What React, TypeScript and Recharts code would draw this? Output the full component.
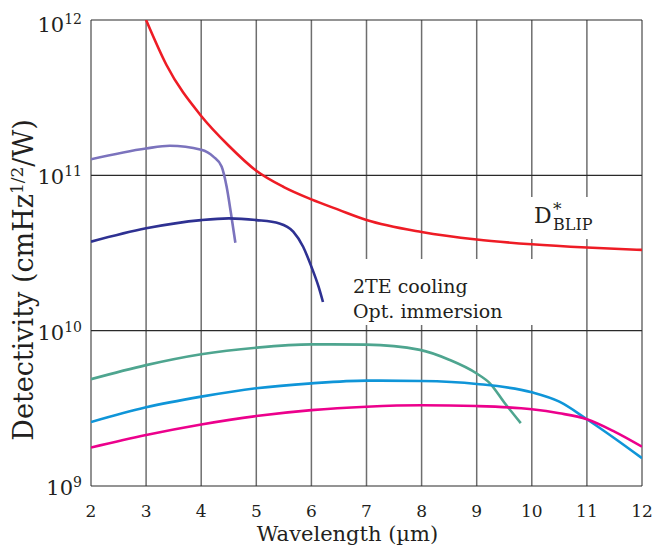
import React from 'react';
import { LineChart, Line, XAxis, YAxis, CartesianGrid } from 'recharts';

// wavelength ticks (µm) and detectivity decades
const xTicks = [2, 3, 4, 5, 6, 7, 8, 9, 10, 11, 12];
const yTicks = [1e9, 1e10, 1e11, 1e12];

// D*BLIP
const blipX = [3, 3.37, 4, 4.5, 5, 5.5, 6, 6.5, 7, 8, 9, 10, 11, 12];
const blipD = [1e12, 5.13e11, 2.41e11, 1.55e11, 1.07e11, 8.4e10, 7.0e10, 5.99e10, 5.16e10, 4.32e10, 3.86e10, 3.6e10, 3.43e10, 3.31e10];

// lavender detector (cut-off ~4.6 µm)
const lavX = [2, 3, 3.43, 4, 4.22, 4.37, 4.46, 4.54, 4.62];
const lavD = [1.27e11, 1.49e11, 1.55e11, 1.46e11, 1.32e11, 1.14e11, 8.5e10, 5.7e10, 3.68e10];

// navy detector (cut-off ~6.2 µm)
const navyX = [2, 3, 4, 4.5, 5, 5.42, 5.67, 5.85, 6, 6.13, 6.21];
const navyD = [3.74e10, 4.56e10, 5.15e10, 5.28e10, 5.15e10, 4.9e10, 4.34e10, 3.47e10, 2.58e10, 1.92e10, 1.53e10];

// teal detector (cut-off ~9.8 µm)
const tealX = [2, 3, 4, 5, 6, 7, 7.97, 8.5, 9, 9.24, 9.5, 9.8];
const tealD = [4.87e9, 6.0e9, 7.05e9, 7.77e9, 8.16e9, 8.13e9, 7.52e9, 6.5e9, 5.3e9, 4.58e9, 3.45e9, 2.54e9];

// blue detector
const blueX = [2, 3, 4, 5, 6, 7, 8, 9, 10, 10.5, 11, 11.5, 12];
const blueD = [2.58e9, 3.21e9, 3.76e9, 4.26e9, 4.58e9, 4.77e9, 4.74e9, 4.54e9, 4.01e9, 3.49e9, 2.69e9, 2.03e9, 1.51e9];

// magenta detector
const magX = [2, 3, 4, 5, 6, 7, 8, 9, 10, 10.5, 11, 11.5, 12];
const magD = [1.77e9, 2.13e9, 2.49e9, 2.82e9, 3.08e9, 3.24e9, 3.31e9, 3.27e9, 3.12e9, 2.94e9, 2.69e9, 2.24e9, 1.79e9];

const zip = (xs: number[], ys: number[]) => xs.map((x, i) => ({ x, y: ys[i] }));

const series = [
  { name: 'blip', data: zip(blipX, blipD), color: '#ee1c25' },
  { name: 'lav', data: zip(lavX, lavD), color: '#7b73bd' },
  { name: 'navy', data: zip(navyX, navyD), color: '#2e3192' },
  { name: 'teal', data: zip(tealX, tealD), color: '#4ea58f' },
  { name: 'blue', data: zip(blueX, blueD), color: '#0f95d8' },
  { name: 'mag', data: zip(magX, magD), color: '#ec008c' },
];

const FONT = '"DejaVu Serif", serif';
const INK = '#231f20';

const XTick = ({ x, y, payload }: any) => (
  <text x={x} y={y + 31} textAnchor="middle" fontSize={17} fontFamily={FONT} fill={INK}>
    {payload.value}
  </text>
);

const YTick = ({ x, y, payload }: any) => {
  const exp = Math.round(Math.log10(payload.value));
  return (
    <text x={x - 9} y={y + (exp === 12 ? 12 : 9)} textAnchor="end" fontSize={21} fontFamily={FONT} fill={INK}>
      10<tspan dy={-8} fontSize={14}>{exp}</tspan>
    </text>
  );
};

const YTitle = () => (
  <text x={33} y={280} transform="rotate(-90 33 280)" textAnchor="middle" fontSize={27} fontFamily={FONT} fill={INK}>
    Detectivity (cmHz<tspan dy={-10} fontSize={17}>1/2</tspan>
    <tspan dy={10}>/W)</tspan>
  </text>
);

const XTitle = ({ viewBox }: any) => (
  <text x={viewBox.x + viewBox.width / 2 - 19} y={541} textAnchor="middle" fontSize={21} fontFamily={FONT} fill={INK}>
    Wavelength (µm)
  </text>
);

export default function App() {
  return (
    <div style={{ position: 'absolute', left: 0, top: 0, width: 653, height: 546, background: '#fff' }}>
      <LineChart width={653} height={546} margin={{ top: 20, right: 11, left: 0, bottom: 0 }}>
        <CartesianGrid horizontal={false} stroke="#6e6e6e" strokeWidth={1.5} />
        <CartesianGrid vertical={false} stroke="#2a2a2a" strokeWidth={1.2} />
        <XAxis
          type="number"
          dataKey="x"
          domain={[2, 12]}
          ticks={xTicks}
          allowDataOverflow
          height={60}
          axisLine={false}
          tickLine={false}
          tickSize={0}
          tickMargin={0}
          tick={<XTick />}
          label={<XTitle />}
        />
        <YAxis
          type="number"
          scale="log"
          domain={[1e9, 1e12]}
          ticks={yTicks}
          allowDataOverflow
          width={91}
          axisLine={false}
          tickLine={false}
          tickSize={0}
          tickMargin={0}
          tick={<YTick />}
          label={<YTitle />}
        />
        {series.map((s) => (
          <Line
            key={s.name}
            data={s.data}
            dataKey="y"
            type="monotone"
            stroke={s.color}
            strokeWidth={2.6}
            dot={false}
            activeDot={false}
            isAnimationActive={false}
          />
        ))}
      </LineChart>
      {/* annotations sit on white boxes that interrupt the grid */}
      <svg width={653} height={546} style={{ position: 'absolute', left: 0, top: 0, pointerEvents: 'none' }}>
        <rect x={528} y={197} width={74} height={42} fill="#fff" />
        <text x={534} y={223} fontSize={22} fontFamily={FONT} fill={INK}>
          D<tspan x={553} y={215} fontSize={17}>*</tspan>
          <tspan x={553} y={230} fontSize={16}>BLIP</tspan>
        </text>
        <rect x={345} y={259} width={196} height={66} fill="#fff" />
        <text x={353} y={293} fontSize={19} fontFamily={FONT} fill={INK}>2TE cooling</text>
        <text x={353} y={318} fontSize={19} fontFamily={FONT} fill={INK}>Opt. immersion</text>
      </svg>
    </div>
  );
}
